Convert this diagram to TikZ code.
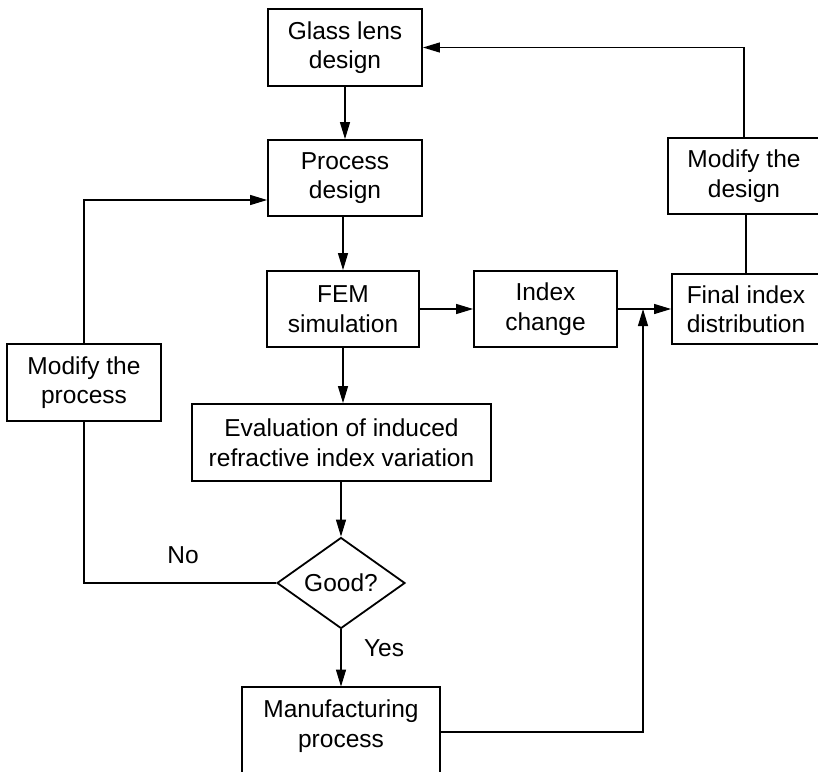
\documentclass[tikz,border=0pt]{standalone}
\usepackage{fontspec}
\setmainfont{Liberation Sans}
\usetikzlibrary{arrows.meta,shapes.geometric}
\begin{document}
\begin{tikzpicture}[x=1pt,y=-1pt,
  txt/.style={font=\fontsize{24.5}{29.5}\selectfont},
  box/.style={txt,draw,line width=1.8pt,rectangle,align=center,inner sep=0pt},
  lbl/.style={txt,inner sep=0pt},
  conn/.style={line width=1.2pt},
  arr/.style={conn,-{Triangle[length=17pt,width=10pt]}}]
\useasboundingbox (0,0) rectangle (818,771);
\node[box,minimum width=154,minimum height=77] (glass) at (345,47.5) {Glass lens\\design};
\node[box,minimum width=154,minimum height=76] (process) at (345,178) {Process\\design};
\node[box,minimum width=152,minimum height=76] (fem) at (343,309) {FEM\\simulation};
\node[box,minimum width=143,minimum height=76] (index) at (545.5,309) {Index\\change};
\node[box,minimum width=148,minimum height=70] (final) at (746,309) {Final index\\distribution};
\node[box,minimum width=152,minimum height=76] (modd) at (744,176) {Modify the\\design};
\node[box,minimum width=154,minimum height=77] (modp) at (84,382.5) {Modify the\\process};
\node[box,minimum width=299,minimum height=77] (eval) at (341.5,442.5) {Evaluation of induced\\refractive index variation};
\node[txt,draw,line width=1.8pt,diamond,aspect=1.4,inner sep=0pt,minimum width=128,minimum height=91] (good) at (341,583) {Good?};
\node[box,draw=none,minimum width=196,minimum height=77] (manu) at (341,726) {Manufacturing\\process};
\draw[line width=1.8pt] ([yshift=-50pt]manu.south west) -- (manu.north west) -- (manu.north east) -- ([yshift=-50pt]manu.south east);
\node[lbl] (no) at (183,555) {No};
\node[lbl] (yes) at (384,648) {Yes};
\coordinate (j) at (643,309);
% connectors
\draw[arr] (glass.south) -- (process.north);
\draw[arr] (fem.north |- process.south) -- (fem.north);
\draw[arr] (fem.east) -- (index.west);
\draw[arr] (index.east) -- (final.west);
\draw[arr] (fem.south) -- (fem.south |- eval.north);
\draw[arr] (eval.south -| good.north) -- (good.north);
\draw[arr] (good.south) -- (manu.north);
\draw[conn] (good.west) -| (modp.south);
\draw[arr] (modp.north) |- (process.west |- 0,200);
\draw[arr] ([yshift=-6pt]manu.east) -| (j);
\draw[conn] (final.north) -- (final.north |- modd.south);
\draw[arr] (modd.north) |- (glass.east);
\end{tikzpicture}
\end{document}
